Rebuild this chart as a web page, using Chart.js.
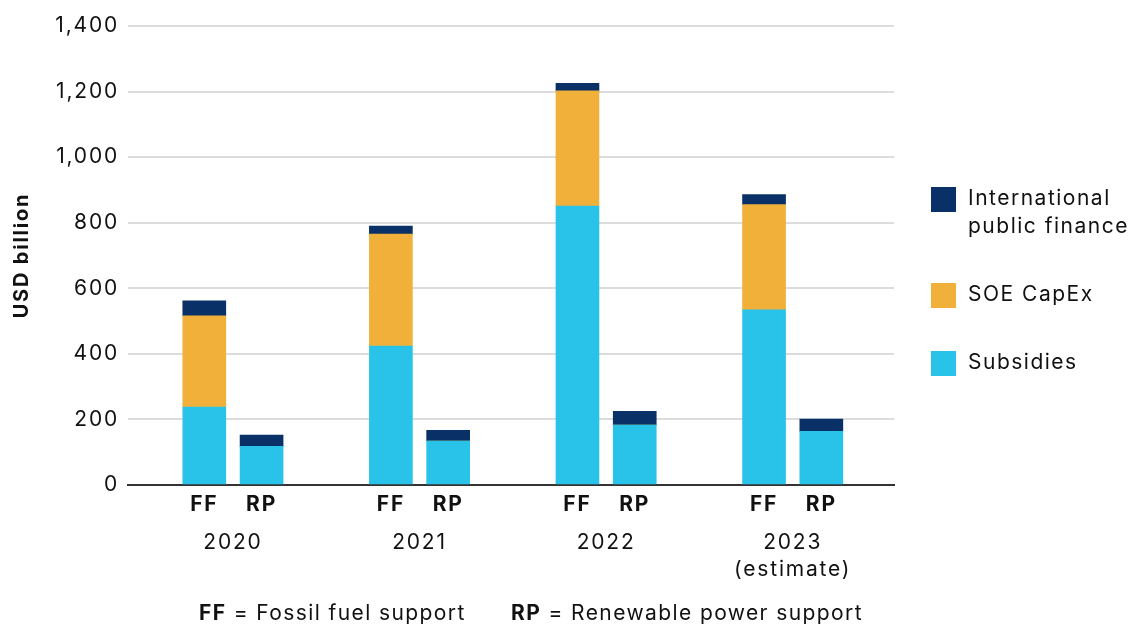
<!DOCTYPE html>
<html>
<head>
<meta charset="utf-8">
<title>Fossil fuel vs renewable power support</title>
<script src="https://cdn.jsdelivr.net/npm/chart.js@4.4.1/dist/chart.umd.min.js"></script>
<style>
  html, body { margin: 0; padding: 0; background: #ffffff; }
  #wrap { position: relative; width: 1131px; height: 628px; }
</style>
</head>
<body>
<div id="wrap"><canvas id="chart" width="1131" height="628"></canvas></div>
<script>
// Years and their axis labels
const years = ['2020', '2021', '2022', '2023'];
const yearLabels = [['2020'], ['2021'], ['2022'], ['2023', '(estimate)']];
const pairLabels = ['FF', 'RP'];

// Fossil fuel support (USD billion)
const ffSubsidies = [238, 424, 851, 534];
const ffSoeCapex = [278, 341, 351, 321];
const ffIntlFinance = [46, 25, 23, 31];

// Renewable power support (USD billion)
const rpSubsidies = [118, 134, 183, 164];
const rpSoeCapex = [0, 0, 0, 0];
const rpIntlFinance = [34, 33, 42, 37];

// Value axis ticks
const yTicks = [0, 200, 400, 600, 800, 1000, 1200, 1400];

// Series names and colours
const seriesNames = ['Subsidies', 'SOE CapEx', 'International public finance'];
const seriesColors = ['#29c3ea', '#f0b03a', '#0a3167'];

const FONT = 'Inter, "Open Sans", sans-serif';
const PAIR_OFFSET = 0.1535;   // FF / RP bars sit either side of each year
const X_MIN = -0.5624, X_MAX = 3.543;

function points(values, side) {
  return values.map((v, i) => ({ x: i + side * PAIR_OFFSET, y: v }));
}

const ffSeries = [ffSubsidies, ffSoeCapex, ffIntlFinance];
const rpSeries = [rpSubsidies, rpSoeCapex, rpIntlFinance];

const datasets = [];
ffSeries.forEach((vals, k) => datasets.push({
  label: seriesNames[k], stack: 'FF', data: points(vals, -1),
  backgroundColor: seriesColors[k]
}));
rpSeries.forEach((vals, k) => datasets.push({
  label: seriesNames[k], stack: 'RP', data: points(vals, 1),
  backgroundColor: seriesColors[k]
}));

// Slightly wider tracking for all axis text
const tracking = {
  id: 'tracking',
  beforeDraw(chart) { chart.ctx.letterSpacing = '1.8px'; },
  afterDraw(chart) { chart.ctx.letterSpacing = '0px'; }
};

// Legend on the right, top item first (reverse stacking order)
const sideLegend = {
  id: 'sideLegend',
  afterDraw(chart) {
    const ctx = chart.ctx;
    const items = [
      { k: 2, box: 187, lines: ['International', 'public finance'], y0: 199 },
      { k: 1, box: 283, lines: ['SOE CapEx'], y0: 295 },
      { k: 0, box: 351, lines: ['Subsidies'], y0: 363 }
    ];
    ctx.save();
    ctx.letterSpacing = '1.5px';
    items.forEach(it => {
      ctx.fillStyle = seriesColors[it.k];
      ctx.fillRect(931, it.box, 25, 25);
      ctx.fillStyle = '#111111';
      ctx.font = '21px ' + FONT;
      ctx.textBaseline = 'middle';
      ctx.textAlign = 'left';
      it.lines.forEach((ln, j) => ctx.fillText(ln, 968, it.y0 + j * 28));
    });
    ctx.restore();
  }
};

// Footnote explaining the FF / RP abbreviations
const footnote = {
  id: 'footnote',
  afterDraw(chart) {
    const ctx = chart.ctx;
    ctx.save();
    ctx.letterSpacing = '1.4px';
    ctx.textBaseline = 'middle';
    ctx.textAlign = 'left';
    ctx.fillStyle = '#111111';
    const parts = [
      { x: 199, bold: 'FF', rest: ' = Fossil fuel support' },
      { x: 511, bold: 'RP', rest: ' = Renewable power support' }
    ];
    parts.forEach(p => {
      ctx.font = 'bold 21px ' + FONT;
      ctx.fillText(p.bold, p.x, 614);
      const w = ctx.measureText(p.bold).width;
      ctx.font = '21px ' + FONT;
      ctx.fillText(p.rest, p.x + w, 614);
    });
    ctx.restore();
  }
};

new Chart(document.getElementById('chart'), {
  type: 'bar',
  data: { datasets },
  options: {
    responsive: false,
    animation: false,
    devicePixelRatio: 1,
    layout: { padding: { top: 26, right: 237, bottom: 46, left: 0 } },
    datasets: { bar: { grouped: false, barThickness: 43, borderWidth: 0 } },
    plugins: { legend: { display: false }, tooltip: { enabled: false } },
    scales: {
      x: {
        type: 'linear', position: 'bottom', min: X_MIN, max: X_MAX, offset: false,
        afterBuildTicks(axis) {
          axis.ticks = [];
          years.forEach((_, i) => {
            axis.ticks.push({ value: i - PAIR_OFFSET });
            axis.ticks.push({ value: i + PAIR_OFFSET });
          });
        },
        afterFit(axis) { axis.height = 33; },
        grid: { display: false, drawTicks: false },
        border: { display: true, color: '#333333', width: 2 },
        ticks: {
          autoSkip: false, maxRotation: 0, padding: 7, color: '#111111',
          font: { family: FONT, size: 21, weight: 'bold' },
          callback: (v, idx) => pairLabels[idx % 2]
        }
      },
      years: {
        type: 'linear', position: 'bottom', min: X_MIN, max: X_MAX, offset: false,
        afterBuildTicks(axis) { axis.ticks = years.map((_, i) => ({ value: i })); },
        afterFit(axis) { axis.height = 64; },
        grid: { display: false, drawTicks: false },
        border: { display: false },
        ticks: {
          autoSkip: false, maxRotation: 0, padding: 11, color: '#111111',
          font: { family: FONT, size: 21, lineHeight: 1.3 },
          callback: (v, idx) => yearLabels[idx]
        }
      },
      y: {
        stacked: true, min: 0, max: 1400,
        afterBuildTicks(axis) { axis.ticks = yTicks.map(v => ({ value: v })); },
        afterFit(axis) { axis.width = 128; },
        grid: {
          drawTicks: false, lineWidth: 2,
          color: c => (c.tick && c.tick.value === 0) ? 'rgba(0,0,0,0)' : '#dcdcdc'
        },
        border: { display: false },
        ticks: {
          padding: 9, color: '#111111',
          font: { family: FONT, size: 21 },
          callback: v => v.toLocaleString('en-US')
        },
        title: {
          display: true, text: 'USD billion', color: '#111111',
          font: { family: FONT, size: 20, weight: 'bold' },
          padding: { top: 10, bottom: 0 }
        }
      }
    }
  },
  plugins: [tracking, sideLegend, footnote]
});
</script>
</body>
</html>
